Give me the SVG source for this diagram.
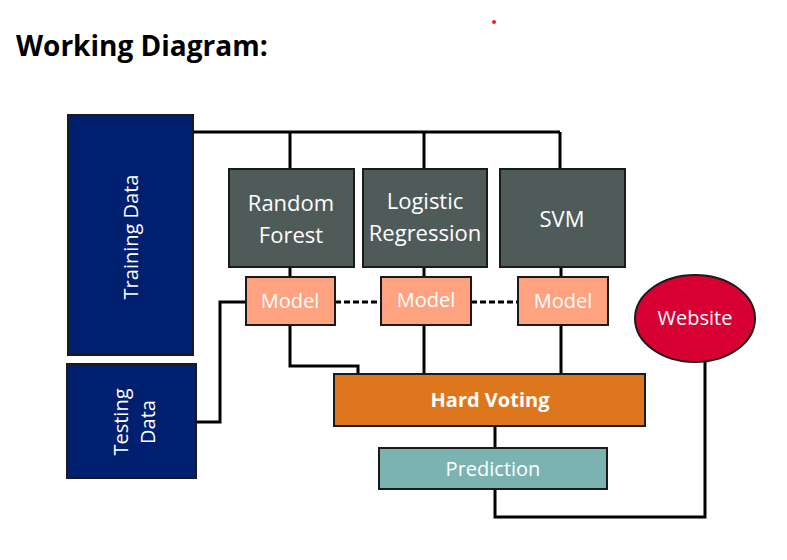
<svg xmlns="http://www.w3.org/2000/svg" width="787" height="560" viewBox="0 0 787 560">
<style>
.box{stroke:#1a1a1a;stroke-width:2}
.t{font-family:"Open Sans","Noto Sans","Liberation Sans",sans-serif;fill:#ffffff;text-anchor:middle}
.ln{fill:none;stroke:#000;stroke-width:3;stroke-linejoin:miter}
.dash{fill:none;stroke:#000;stroke-width:3;stroke-dasharray:6 3}
</style>
<rect width="787" height="560" fill="#ffffff"/>
<text x="16" y="56" font-family="'Open Sans','Noto Sans','Liberation Sans',sans-serif" font-weight="bold" font-size="28" fill="#000">Working Diagram:</text>
<circle cx="494" cy="22" r="2" fill="#e8202a"/>
<g id="connectors">
<path class="ln" d="M193 132 H560 M290 132 V169 M424 132 V169 M560 132 V169"/>
<path class="ln" d="M290 267 V277 M424 267 V277 M561 267 V277"/>
<path class="dash" d="M335 302 H381 M471 302 H518"/>
<path class="ln" d="M196 422 H220 V302 H246"/>
<path class="ln" d="M290 325 V366 H358 V374"/>
<path class="ln" d="M424 325 V374 M561 325 V374"/>
<path class="ln" d="M495 426 V448"/>
<path class="ln" d="M495 489 V517 H705 V362"/>
</g>
<g id="training">
<rect class="box" x="68" y="115" width="125" height="240" fill="#001F6E"/>
<text class="t" font-size="20" transform="translate(138 237) rotate(-90)">Training Data</text>
</g>
<g id="testing">
<rect class="box" x="67" y="364" width="129" height="114" fill="#001F6E"/>
<text class="t" font-size="20" transform="translate(128 422) rotate(-90)">Testing</text>
<text class="t" font-size="20" transform="translate(155 422) rotate(-90)">Data</text>
</g>
<g id="rf">
<rect class="box" x="229" y="169" width="125" height="98" fill="#4F5B59"/>
<text class="t" font-size="22" x="291" y="211">Random</text>
<text class="t" font-size="22" x="291" y="243">Forest</text>
</g>
<g id="lr">
<rect class="box" x="363" y="169" width="124" height="98" fill="#4F5B59"/>
<text class="t" font-size="22" x="425" y="209">Logistic</text>
<text class="t" font-size="22" x="425" y="241">Regression</text>
</g>
<g id="svm">
<rect class="box" x="500" y="169" width="125" height="98" fill="#4F5B59"/>
<text class="t" font-size="22" x="562" y="227">SVM</text>
</g>
<g id="model1">
<rect class="box" x="246" y="277" width="89" height="48" fill="#FFA27F"/>
<text class="t" font-size="20" x="290" y="308">Model</text>
</g>
<g id="model2">
<rect class="box" x="381" y="277" width="90" height="48" fill="#FFA27F"/>
<text class="t" font-size="20" x="426" y="307">Model</text>
</g>
<g id="model3">
<rect class="box" x="518" y="277" width="90" height="48" fill="#FFA27F"/>
<text class="t" font-size="20" x="563" y="308">Model</text>
</g>
<g id="hardvoting">
<rect class="box" x="334" y="374" width="311" height="52" fill="#DE761E"/>
<text class="t" font-size="20" font-weight="bold" x="490" y="407">Hard Voting</text>
</g>
<g id="prediction">
<rect class="box" x="379" y="448" width="228" height="41" fill="#7BB3B1"/>
<text class="t" font-size="20" x="493" y="476">Prediction</text>
</g>
<g id="website">
<ellipse class="box" cx="695" cy="318.5" rx="60" ry="43.5" fill="#D80032"/>
<text class="t" font-size="20" x="695" y="325">Website</text>
</g>
</svg>
